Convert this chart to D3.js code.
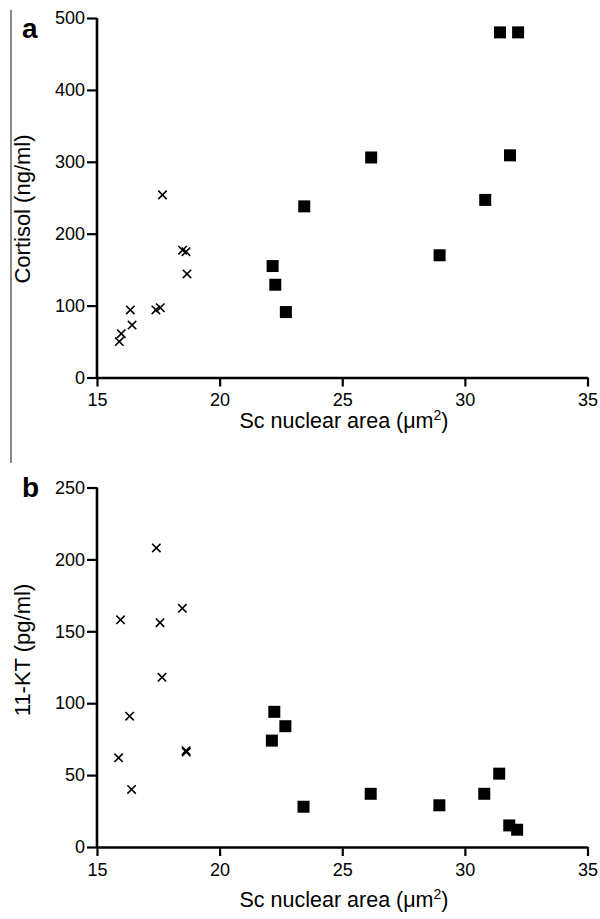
<!DOCTYPE html>
<html><head><meta charset="utf-8">
<script src="https://cdn.jsdelivr.net/npm/d3@7"></script>
<style>body{margin:0;background:#fff}svg{display:block}text{font-family:"Liberation Sans",Arial,sans-serif;fill:#000}</style>
</head><body>
<script>
// Panel a: Cortisol vs Sc nuclear area
const crossAreaA = [15.91,15.99,16.36,16.43,17.40,17.58,17.67,18.49,18.63,18.67];
const crossCortisol = [50,61,94,73,94,97,254,177,175,144];
const squareAreaA = [22.16,22.27,22.70,23.45,26.18,28.97,30.83,31.43,31.84,32.17];
const squareCortisol = [155,129,91,238,306,170,247,480,309,480];
// Panel b: 11-KT vs Sc nuclear area
const crossAreaB = [17.42,15.96,17.57,18.48,17.65,16.33,15.88,16.41,18.63,18.64];
const crossKT = [208,158,156,166,118,91,62,40,67,66];
const squareAreaB = [22.23,22.68,22.13,23.42,26.16,28.96,30.79,31.40,31.81,32.13];
const squareKT = [94,84,74,28,37,29,37,51,15,12];
const xTicks = [15,20,25,30,35];
const yTicksA = [0,100,200,300,400,500];
const yTicksB = [0,50,100,150,200,250];

const W=600,H=919;
const svg=d3.select("body").append("svg").attr("width",W).attr("height",H);

// left gray rule
svg.append("line").attr("x1",11).attr("x2",11).attr("y1",10).attr("y2",463)
  .attr("stroke","#8a8a8a").attr("stroke-width",2);

function panel(opt){
  const x=d3.scaleLinear().domain([15,35]).range([97,587.5]);
  const y=d3.scaleLinear().domain([0,opt.ymax]).range([opt.y0,opt.y1]);
  const g=svg.append("g");
  const xa=g.append("g").attr("transform",`translate(0,${opt.y0})`)
    .call(d3.axisBottom(x).tickValues(xTicks).tickSize(9).tickPadding(7).tickSizeOuter(0));
  const ya=g.append("g").attr("transform",`translate(97,0)`)
    .call(d3.axisLeft(y).tickValues(opt.yTicks).tickSize(10).tickPadding(2).tickSizeOuter(0));
  [xa,ya].forEach(a=>{
    a.select(".domain").attr("stroke","#000").attr("stroke-width",2.6);
    a.selectAll(".tick line").attr("stroke","#000").attr("stroke-width",2.2);
    a.selectAll(".tick text").attr("font-size",18).attr("font-family","Liberation Sans, Arial, sans-serif").attr("fill","#000");
  });
  ya.select(".domain").attr("d",`M0,${opt.y0+1.3}V${opt.y1}`);
  // crosses
  const cs=4.2;
  const cg=g.append("g").attr("stroke","#000").attr("stroke-width",1.6);
  opt.cx.forEach((v,i)=>{
    const px=x(v),py=y(opt.cy[i]);
    cg.append("path").attr("d",`M${px-cs},${py-cs}L${px+cs},${py+cs}M${px-cs},${py+cs}L${px+cs},${py-cs}`);
  });
  const s=12;
  g.append("g").selectAll("rect").data(opt.sx).join("rect")
    .attr("x",(d)=>x(d)-s/2).attr("y",(d,i)=>y(opt.sy[i])-s/2)
    .attr("width",s).attr("height",s).attr("fill","#000");
  // x title
  const t=g.append("text").attr("x",344).attr("y",opt.xtY).attr("text-anchor","middle").attr("font-size",21.5);
  t.append("tspan").text("Sc nuclear area (μm");
  t.append("tspan").attr("font-size",14).attr("dy",-8).text("2");
  t.append("tspan").attr("dy",8).text(")");
  // y title
  g.append("text").attr("transform",`translate(30,${opt.ytY}) rotate(-90)`)
    .attr("text-anchor","middle").attr("font-size",22).text(opt.ytitle);
  // letter
  g.append("text").attr("x",22).attr("y",opt.letY).attr("font-size",28).attr("font-weight","bold").text(opt.letter);
}

panel({ymax:500,y0:377.5,y1:18,yTicks:yTicksA,cx:crossAreaA,cy:crossCortisol,sx:squareAreaA,sy:squareCortisol,
  xtY:428,ytY:209,ytitle:"Cortisol (ng/ml)",letter:"a",letY:38});
panel({ymax:250,y0:847,y1:487.5,yTicks:yTicksB,cx:crossAreaB,cy:crossKT,sx:squareAreaB,sy:squareKT,
  xtY:907,ytY:650,ytitle:"11-KT (pg/ml)",letter:"b",letY:497});
</script>
</body></html>
